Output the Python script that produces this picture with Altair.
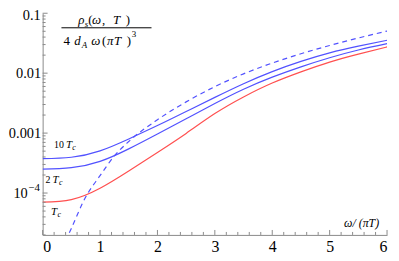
import altair as alt
import pandas as pd

# ---- data ----
x_grid = [0, 0.5, 1, 1.5, 2, 2.5, 3, 3.5, 4, 4.5, 5, 5.5, 6]
rho_10tc = [3.76e-4, 3.95e-4, 5.06e-4, 7.99e-4, 1.335e-3, 2.29e-3, 3.95e-3, 6.68e-3, 1.063e-2, 1.573e-2, 2.183e-2, 2.826e-2, 3.54e-2]
rho_2tc = [2.51e-4, 2.649e-4, 3.38e-4, 5.46e-4, 9.66e-4, 1.737e-3, 3.12e-3, 5.40e-3, 8.59e-3, 1.276e-2, 1.811e-2, 2.436e-2, 3.11e-2]
rho_tc = [7.05e-5, 7.78e-5, 1.205e-4, 2.336e-4, 4.76e-4, 9.89e-4, 2.117e-3, 4.01e-3, 6.84e-3, 1.051e-2, 1.532e-2, 2.077e-2, 2.742e-2]
x_free = [0.40, 0.5, 0.75, 1.0, 1.25, 1.5, 2.0, 2.5, 3.0, 3.5, 4.0, 4.5, 5.0, 5.5, 6.0]
rho_free = [1.59e-5, 2.57e-5, 8.59e-5, 1.946e-4, 4.17e-4, 7.24e-4, 1.671e-3, 3.32e-3, 5.96e-3, 9.74e-3, 1.474e-2, 2.109e-2, 2.892e-2, 3.862e-2, 5.04e-2]

x_ticks_major = [0, 1, 2, 3, 4, 5, 6]
y_ticks_major = [1e-4, 1e-3, 1e-2, 1e-1]

W, H = 348, 224
LEFT, TOP = 43, 12  # page position of plot origin
Y_MIN, Y_MAX = 2e-5, 0.1

x_ticks_minor = [round(i * 0.2, 1) for i in range(31) if i % 5 != 0]
y_ticks_minor = [m * 10.0 ** k for k in range(-5, 0) for m in range(2, 10)
                 if Y_MIN <= m * 10.0 ** k <= Y_MAX]

xs = alt.Scale(domain=[0, 6], nice=False, zero=False)
ys = alt.Scale(type="log", domain=[Y_MIN, Y_MAX], nice=False)

BLUE = "#5252ff"
RED = "#ff5050"
AX = "#8a8a8a"
FONT = "Liberation Serif"
LBL = 14.5

# 0.1 and 10^-4 are drawn as text marks (edge clearance / true superscript)
y_label_expr = ("datum.value > 0.05 ? '' : datum.value > 0.005 ? '0.01' : "
                "datum.value > 0.0005 ? '0.001' : ''")

x_axis = alt.Axis(values=x_ticks_major, format="d", ticks=False, tickSize=0, grid=False,
                  domainColor=AX, labelFont=FONT, labelFontSize=16, labelColor="black",
                  labelPadding=4, title=None)
y_axis = alt.Axis(values=y_ticks_major, labelExpr=y_label_expr, ticks=False, tickSize=0,
                  grid=False, domainColor=AX, labelFont=FONT, labelFontSize=LBL,
                  labelColor="black", labelPadding=2, title=None)


def X(field="x"):
    return alt.X(f"{field}:Q", scale=xs, axis=x_axis)


def Y(field="v"):
    return alt.Y(f"{field}:Q", scale=ys, axis=y_axis)


blue_df = pd.DataFrame(
    [{"x": x, "v": v, "s": "10Tc"} for x, v in zip(x_grid, rho_10tc)]
    + [{"x": x, "v": v, "s": "2Tc"} for x, v in zip(x_grid, rho_2tc)]
)
red_df = pd.DataFrame({"x": x_grid, "v": rho_tc})
free_df = pd.DataFrame({"x": x_free, "v": rho_free})

blue = alt.Chart(blue_df).mark_line(color=BLUE, strokeWidth=1.2, interpolate="natural", clip=True).encode(
    x=X(), y=Y(), detail="s:N")
red = alt.Chart(red_df).mark_line(color=RED, strokeWidth=1.2, interpolate="natural", clip=True).encode(
    x=X(), y=Y())
free = alt.Chart(free_df).mark_line(color=BLUE, strokeWidth=1.2, strokeDash=[5, 4], interpolate="monotone",
                                    clip=True).encode(x=X(), y=Y())


def ytick(vals, length):
    return alt.Chart(pd.DataFrame({"v": vals})).mark_rule(color=AX, strokeWidth=1).encode(
        y=Y("v"), x=alt.value(0), x2=alt.value(length))


def xtick(vals, length):
    return alt.Chart(pd.DataFrame({"x": vals})).mark_rule(color=AX, strokeWidth=1).encode(
        x=X("x"), y=alt.value(H), y2=alt.value(H - length))


top_label = alt.Chart(pd.DataFrame({"v": [0.1], "t": ["0.1"]})).mark_text(
    font=FONT, fontSize=LBL, align="right", baseline="middle", dx=-2, dy=2.5, color="black").encode(
    y=Y("v"), x=alt.value(0), text="t:N")

one = pd.DataFrame({"a": [0]})


def txt(s, px, py, size=13, italic=False, align="left"):
    return alt.Chart(one).mark_text(text=s, fontSize=size, font=FONT,
                                    fontStyle="italic" if italic else "normal",
                                    align=align, baseline="alphabetic", color="black").encode(
        x=alt.value(px - LEFT), y=alt.value(py - TOP))


texts = [
    # 10^-4 tick label
    txt("10", 28, 199, LBL, False, "right"),
    txt("\u22124", 28.5, 191.5, 11),
    # numerator
    txt("\u03c1", 79, 23, 13, True),
    txt("s", 85.5, 26, 9, True),
    txt("(", 89, 23, 13),
    txt("\u03c9", 93, 23, 13, True),
    txt(",", 103, 23, 13),
    txt("T", 114, 23, 13, True),
    txt(")", 127, 23, 13),
    # denominator
    txt("4", 64, 44, 13),
    txt("d", 75, 44, 13, True),
    txt("A", 82.5, 47, 9, True),
    txt("\u03c9", 92, 44, 13, True),
    txt("(", 103, 44, 13),
    txt("\u03c0", 108, 44, 13, True),
    txt("T", 115, 44, 13, True),
    txt(")", 128, 44, 13),
    txt("3", 133, 36, 9),
    # curve labels
    txt("10", 54.5, 148, 10),
    txt("T", 66.5, 148, 11, True),
    txt("c", 73, 150, 8, True),
    txt("2", 46, 184, 10),
    txt("T", 53, 184, 11, True),
    txt("c", 59.5, 186, 8, True),
    txt("T", 51.5, 215.5, 11, True),
    txt("c", 58, 217.5, 8, True),
    # x-axis label
    txt("\u03c9/ (\u03c0T)", 383, 228, 12, True, "right"),
]

bar = alt.Chart(one).mark_rule(color="black", strokeWidth=1).encode(
    x=alt.value(62 - LEFT), x2=alt.value(153 - LEFT), y=alt.value(26.7 - TOP))

chart = alt.layer(
    blue, red, free,
    ytick(y_ticks_major, 5), ytick(y_ticks_minor, 3),
    xtick(x_ticks_major, 5), xtick(x_ticks_minor, 3),
    top_label, bar, *texts,
).properties(
    width=W, height=H,
    autosize=alt.AutoSizeParams(type="none"),
    padding={"left": LEFT - 8, "top": TOP - 8, "right": 4, "bottom": 20},
    background="white",
).configure_view(stroke=None)

chart.save("out.html", embed_options={"renderer": "svg", "actions": False})
